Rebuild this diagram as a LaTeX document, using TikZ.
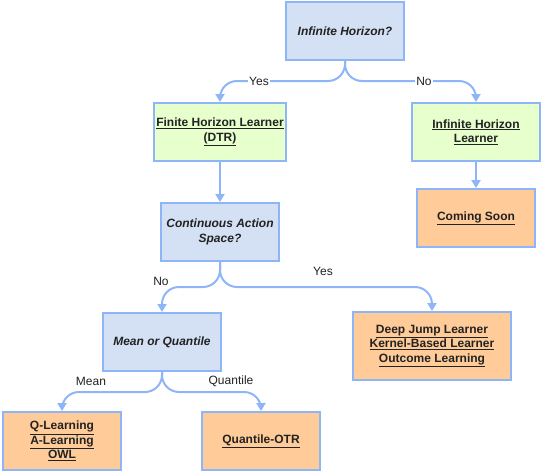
\documentclass[tikz,border=0pt]{standalone}
\usepackage{fontspec}
\setmainfont{Liberation Sans}
\usetikzlibrary{arrows.meta}
\definecolor{edgeblue}{HTML}{8DB5F7}
\definecolor{bluefill}{HTML}{D4E1F5}
\definecolor{greenfill}{HTML}{E6FFCC}
\definecolor{orangefill}{HTML}{FFCC99}
\definecolor{txt}{HTML}{222222}
\begin{document}
\begin{tikzpicture}[x=1pt,y=-1pt,
  box/.style={draw=edgeblue,line width=2pt,align=center,inner sep=2pt,text=txt,
    font=\fontsize{12}{14.5}\selectfont},
  qbox/.style={box,fill=bluefill,font=\fontsize{12}{14.5}\selectfont\bfseries\itshape},
  gbox/.style={box,fill=greenfill,font=\fontsize{12}{14.5}\selectfont\bfseries},
  obox/.style={box,fill=orangefill,font=\fontsize{12}{14.5}\selectfont\bfseries},
  conn/.style={draw=edgeblue,line width=2pt,rounded corners=17pt,
    -{Triangle[length=8pt,width=9pt,fill=edgeblue]}},
  lbl/.style={font=\fontsize{12}{14}\selectfont,inner sep=1pt,text=txt},
  onlbl/.style={lbl,fill=white}
]
\useasboundingbox (0,0) rectangle (542,472);
\node[qbox,minimum width=118pt,minimum height=58pt] (ih) at (345,31) {Infinite Horizon?};
\node[gbox,minimum width=128pt,minimum height=58pt] (fh) at (220,132) {\underline{Finite Horizon Learner}\\\underline{(DTR)}};
\node[gbox,minimum width=128pt,minimum height=58pt] (ihl) at (476,132) {\underline{Infinite Horizon}\\\underline{Learner}};
\node[obox,minimum width=118pt,minimum height=58pt] (cs) at (476,218) {\underline{Coming Soon}};
\node[qbox,minimum width=118pt,minimum height=58pt] (cas) at (220,232) {Continuous Action\\Space?};
\node[qbox,minimum width=118pt,minimum height=58pt] (mq) at (162,342) {Mean or Quantile};
\node[obox,minimum width=158pt,minimum height=68pt] (dj) at (432,346) {\underline{Deep Jump Learner}\\\underline{Kernel-Based Learner}\\\underline{Outcome Learning}};
\node[obox,minimum width=118pt,minimum height=58pt] (ql) at (62,441) {\underline{Q-Learning}\\\underline{A-Learning}\\\underline{OWL}};
\node[obox,minimum width=118pt,minimum height=58pt] (qo) at (261,441) {\underline{Quantile-OTR}};

\draw[conn] (ih.south) -- ++(0,20) -| (fh.north);
\draw[conn] (ih.south) -- ++(0,20) -| (ihl.north);
\draw[conn,rounded corners=0pt] (fh.south) -- (cas.north);
\draw[conn,rounded corners=0pt] (ihl.south) -- (cs.north);
\draw[conn] (cas.south) -- ++(0,25) -| (mq.north);
\draw[conn] (cas.south) -- ++(0,25) -| (dj.north);
\draw[conn] (mq.south) -- ++(0,20) -| (ql.north);
\draw[conn] (mq.south) -- ++(0,20) -| (qo.north);

\node[onlbl] (l1) at (259,81) {Yes};
\node[onlbl] (l2) at (424,81) {No};
\node[lbl] (l3) at (161,281) {No};
\node[lbl] (l4) at (323,271) {Yes};
\node[lbl] (l5) at (91,381) {Mean};
\node[lbl] (l6) at (231,381) {Quantile};
\end{tikzpicture}
\end{document}
